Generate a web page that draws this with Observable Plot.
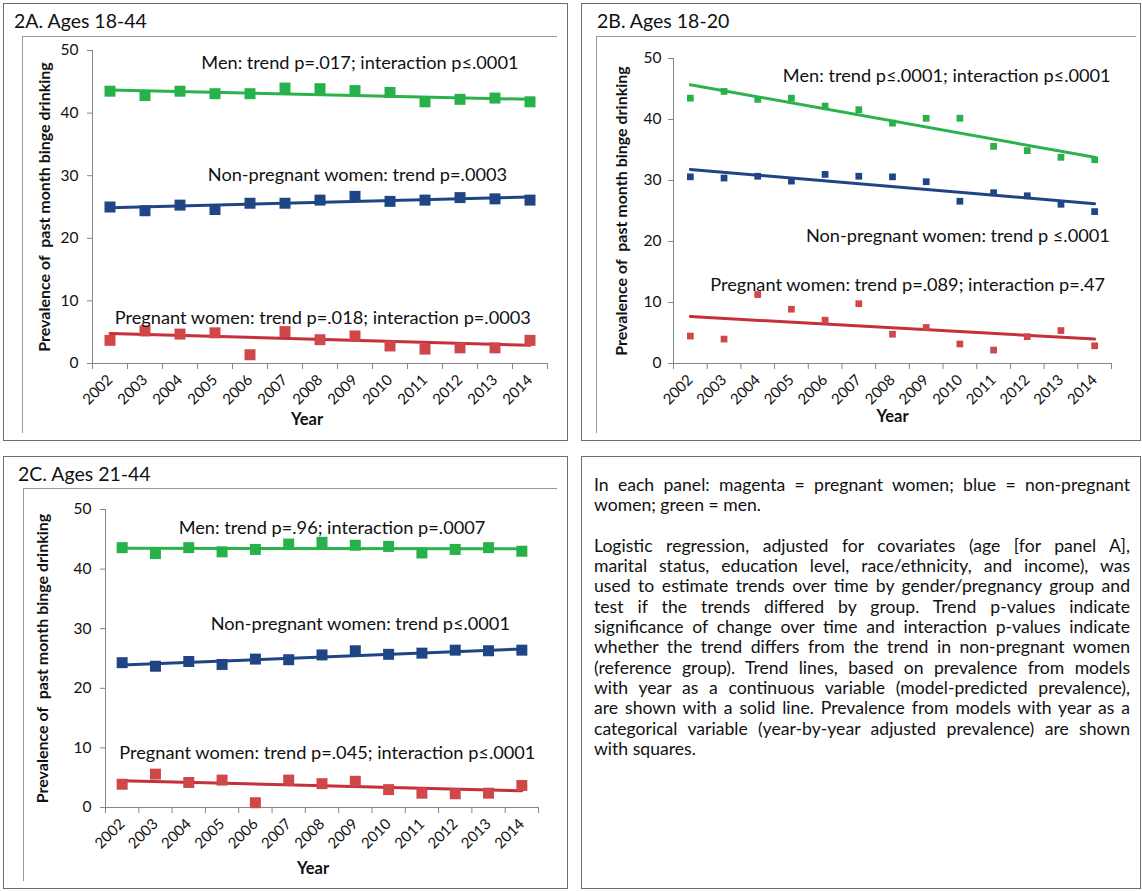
<!DOCTYPE html>
<html>
<head>
<meta charset="utf-8">
<script src="https://cdn.jsdelivr.net/npm/d3@7"></script>
<script src="https://cdn.jsdelivr.net/npm/@observablehq/plot@0.6"></script>
<style>
  html, body { margin: 0; padding: 0; background: #fff; }
  body { width: 1142px; height: 891px; position: relative; overflow: hidden; font-family: Lato, "Open Sans", sans-serif; color: #111; }
  .box { position: absolute; border: 1.5px solid #6f6f6f; box-sizing: border-box; }
  .inner { position: absolute; border-top: 1px solid #9a9a9a; border-left: 1px solid #9a9a9a; }
  .ptitle { position: absolute; font-size: 19.5px; white-space: nowrap; line-height: 1; }
  .chart { position: absolute; }
  .note { position: absolute; left: 594px; top: 475px; width: 536px; font-size: 17.6px; line-height: 20.3px; }
  .note div { white-space: nowrap; }
  .note .j { text-align: justify; text-align-last: justify; }
</style>
</head>
<body>
<script>
// ---- categories ----
const years = [2002, 2003, 2004, 2005, 2006, 2007, 2008, 2009, 2010, 2011, 2012, 2013, 2014];
const yTicks = [0, 10, 20, 30, 40, 50];
const groups = ["Men", "Non-pregnant women", "Pregnant women"];
const yTitle = "Prevalence of \u00a0past month binge drinking";
const xTitle = "Year";

// ---- Panel 2A: Ages 18-44 (year-by-year adjusted prevalence, squares) ----
const menA     = [43.5, 42.8, 43.5, 43.1, 43.1, 44.0, 43.9, 43.6, 43.3, 41.8, 42.2, 42.4, 41.8];
const nonPregA = [25.0, 24.4, 25.3, 24.6, 25.6, 25.6, 26.1, 26.7, 25.9, 26.1, 26.5, 26.3, 26.1];
const pregA    = [3.7, 5.2, 4.7, 4.9, 1.4, 5.1, 3.8, 4.4, 2.8, 2.3, 2.5, 2.5, 3.7];
// model-predicted trend (2002 -> 2014)
const trendMenA = [43.7, 42.2], trendNonPregA = [24.9, 26.6], trendPregA = [4.8, 2.9];
const notesA = ["Men: trend p=.017; interaction p≤.0001", "Non-pregnant women: trend p=.0003", "Pregnant women: trend p=.018; interaction p=.0003"];

// ---- Panel 2B: Ages 18-20 ----
const menB     = [43.5, 44.6, 43.3, 43.5, 42.2, 41.6, 39.4, 40.2, 40.2, 35.6, 34.9, 33.8, 33.4];
const nonPregB = [30.6, 30.4, 30.7, 29.9, 31.0, 30.7, 30.6, 29.8, 26.6, 28.0, 27.5, 26.1, 24.9];
const pregB    = [4.5, 4.0, 11.3, 8.9, 7.1, 9.8, 4.8, 5.9, 3.2, 2.2, 4.4, 5.4, 2.9];
const trendMenB = [45.7, 33.8], trendNonPregB = [31.8, 26.2], trendPregB = [7.7, 4.0];
const notesB = ["Men: trend p≤.0001; interaction p≤.0001", "Non-pregnant women: trend p ≤.0001", "Pregnant women: trend p=.089; interaction p=.47"];

// ---- Panel 2C: Ages 21-44 ----
const menC     = [43.6, 42.6, 43.6, 42.9, 43.3, 44.2, 44.5, 44.0, 43.8, 42.7, 43.3, 43.6, 43.0];
const nonPregC = [24.3, 23.7, 24.5, 24.0, 24.9, 24.8, 25.6, 26.3, 25.7, 25.9, 26.4, 26.3, 26.4];
const pregC    = [3.9, 5.6, 4.2, 4.6, 0.8, 4.6, 4.0, 4.4, 3.0, 2.4, 2.3, 2.4, 3.7];
const trendMenC = [43.5, 43.4], trendNonPregC = [23.9, 26.6], trendPregC = [4.5, 2.8];
const notesC = ["Men: trend p=.96; interaction p=.0007", "Non-pregnant women: trend p≤.0001", "Pregnant women: trend p=.045; interaction p≤.0001"];

const titles = ["2A. Ages 18-44", "2B. Ages 18-20", "2C. Ages 21-44"];
const noteLines = [
  "In each panel: magenta = pregnant women; blue = non-pregnant",
  "women; green = men.",
  "",
  "Logistic regression, adjusted for covariates (age [for panel A],",
  "marital status, education level, race/ethnicity, and income), was",
  "used to estimate trends over time by gender/pregnancy group and",
  "test if the trends differed by group. Trend p-values indicate",
  "significance of change over time and interaction p-values indicate",
  "whether the trend differs from the trend in non-pregnant women",
  "(reference group). Trend lines, based on prevalence from models",
  "with year as a continuous variable (model-predicted prevalence),",
  "are shown with a solid line. Prevalence from models with year as a",
  "categorical variable (year-by-year adjusted prevalence) are shown",
  "with squares."
];

// ---- styling ----
const colors = {"Men": "#2bb24c", "Non-pregnant women": "#1f4585", "Pregnant women": "#c5303a"};
const squareColors = {"Men": "#27b14b", "Non-pregnant women": "#1f4585", "Pregnant women": "#d0474a"};
const axisGray = "#868686";

function el(tag, cls, style, text) {
  const e = document.createElement(tag);
  if (cls) e.className = cls;
  Object.assign(e.style, style || {});
  if (text != null) e.textContent = text;
  document.body.appendChild(e);
  return e;
}

function buildPanel(p) {
  const squares = [];
  const trends = [];
  p.series.forEach((vals, gi) => {
    const g = groups[gi];
    vals.forEach((v, i) => squares.push({year: years[i], value: v, group: g}));
    trends.push({year: years[0], value: p.trends[gi][0], group: g});
    trends.push({year: years[years.length - 1], value: p.trends[gi][1], group: g});
  });
  const bounds = [years[0] - 0.5, ...years.map(y => y + 0.5)];
  const notes = p.notes.map((t, i) => ({text: t, x: p.notePos[i][0], y: p.notePos[i][1]}));
  const chart = Plot.plot({
    width: p.w, height: p.h,
    marginLeft: p.ml, marginRight: p.mr, marginTop: p.mt, marginBottom: p.mb,
    x: {domain: [bounds[0], bounds[bounds.length - 1]], axis: null},
    y: {domain: [0, 50], axis: null},
    style: {fontFamily: "Lato, 'Open Sans', sans-serif", color: "#111", background: "transparent", overflow: "visible"},
    marks: [
      Plot.ruleY([0], {stroke: axisGray}),
      Plot.ruleX([bounds[0]], {stroke: axisGray}),
      Plot.axisY({ticks: yTicks, tickSize: 5, tickPadding: p.ypad, stroke: axisGray, fill: "#111", fontSize: 15.5, label: null}),
      Plot.axisX({ticks: bounds, tickSize: 6, tickFormat: () => "", stroke: axisGray, label: null}),
      Plot.axisX({ticks: years, tickSize: 0, tickPadding: p.xpad, tickRotate: -45, tickFormat: "d", fill: "#111", fontSize: 15, label: null}),
      Plot.line(trends, {x: "year", y: "value", z: "group", stroke: d => colors[d.group], strokeWidth: p.lw}),
      Plot.dot(squares, {x: "year", y: "value", symbol: "square", r: p.r, fill: d => squareColors[d.group], stroke: "none"}),
      Plot.text(notes, {x: "x", y: "y", text: "text", fontSize: p.noteSize, fill: "#111", textAnchor: "middle"}),
      Plot.text([xTitle], {frameAnchor: "bottom", dx: p.xtdx, dy: p.xtdy, fontWeight: "bold", fontSize: 16.5, fill: "#111"}),
      Plot.text([yTitle], {frameAnchor: "left", textAnchor: "middle", rotate: -90, dx: p.ytdx, fontWeight: "bold", fontSize: 16, fill: "#111"})
    ]
  });
  chart.classList.add("chart");
  chart.style.left = p.left + "px";
  chart.style.top = p.top + "px";
  document.body.appendChild(chart);
}

// panel frames
el("div", "box", {left: "3px", top: "3px", width: "565px", height: "438px"});
el("div", "inner", {left: "22px", top: "36px", width: "534px", height: "396px"});
el("div", "ptitle", {left: "14px", top: "11px"}, titles[0]);

el("div", "box", {left: "581px", top: "3px", width: "560px", height: "438px"});
el("div", "inner", {left: "596px", top: "36px", width: "539px", height: "396px"});
el("div", "ptitle", {left: "597px", top: "11px"}, titles[1]);

el("div", "box", {left: "3px", top: "456px", width: "565px", height: "433px"});
el("div", "inner", {left: "23px", top: "488px", width: "533px", height: "392px"});
el("div", "ptitle", {left: "18px", top: "464px"}, titles[2]);

el("div", "box", {left: "581px", top: "456px", width: "560px", height: "433px"});

buildPanel({
  left: 5, top: 40, w: 558, h: 397, ml: 87, mr: 16, mt: 10, mb: 74,
  series: [menA, nonPregA, pregA], trends: [trendMenA, trendNonPregA, trendPregA],
  notes: notesA, notePos: [[2009.14, 48.0], [2009.07, 30.1], [2008.08, 7.2]],
  r: 6.2, lw: 3, ypad: 9, xpad: 14, noteSize: 18.2, xtdx: -13, xtdy: 61, ytdx: -48
});
buildPanel({
  left: 585, top: 40, w: 552, h: 397, ml: 88, mr: 26, mt: 18, mb: 74,
  series: [menB, nonPregB, pregB], trends: [trendMenB, trendNonPregB, trendPregB],
  notes: notesB, notePos: [[2009.61, 47.1], [2009.94, 20.9], [2008.45, 12.9]],
  r: 3.8, lw: 3, ypad: 7, xpad: 14, noteSize: 18.2, xtdx: 0, xtdy: 58, ytdx: -52
});
buildPanel({
  left: 5, top: 492, w: 558, h: 393, ml: 100, mr: 25, mt: 17, mb: 78,
  series: [menC, nonPregC, pregC], trends: [trendMenC, trendNonPregC, trendPregC],
  notes: notesC, notePos: [[2008.3, 46.8], [2009.15, 30.8], [2008.16, 9.1]],
  r: 6.2, lw: 3, ypad: 9, xpad: 14, noteSize: 18.2, xtdx: -9, xtdy: 66, ytdx: -63
});

// explanatory note
const note = el("div", "note", {});
noteLines.forEach((t, i) => {
  const d = document.createElement("div");
  const plain = (i === 1 || i === noteLines.length - 1 || t === "");
  if (!plain) d.className = "j";
  if (t === "") d.innerHTML = "&nbsp;"; else d.textContent = t;
  note.appendChild(d);
});
</script>
</body>
</html>
